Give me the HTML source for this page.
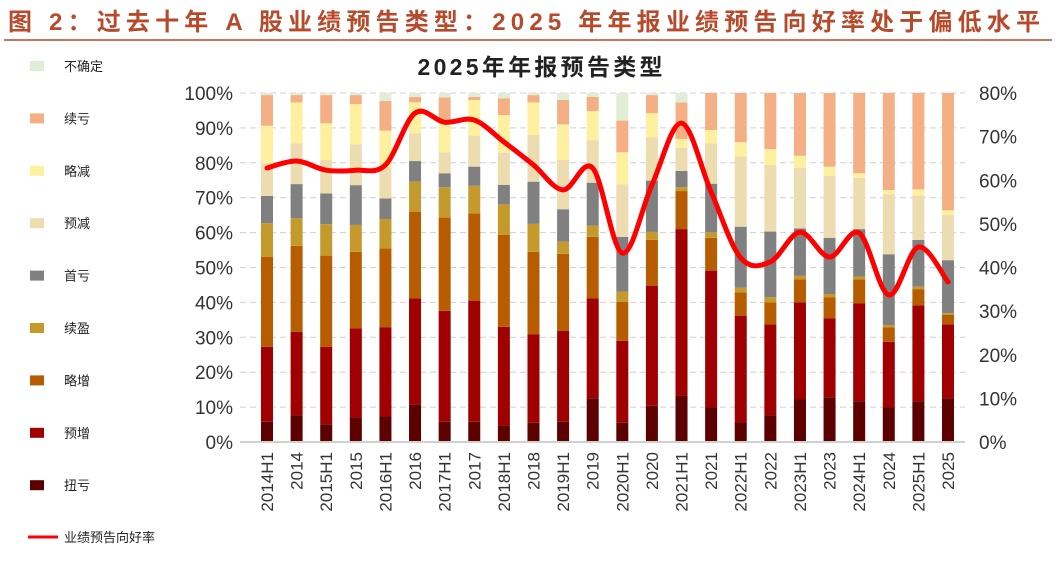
<!DOCTYPE html>
<html><head><meta charset="utf-8">
<style>
body{margin:0;background:#fff;}
svg{display:block;font-family:"Liberation Sans","Noto Sans CJK SC",sans-serif;}
</style></head>
<body>
<svg id="chart" width="1056" height="562" viewBox="0 0 1056 562">
<text x="8" y="30" font-size="24" font-weight="bold" fill="#b84a2c" textLength="1032" lengthAdjust="spacing">图 2：过去十年 A 股业绩预告类型：2025 年年报业绩预告向好率处于偏低水平</text>
<line x1="4" y1="40" x2="1052" y2="40" stroke="#b84a2c" stroke-width="1.5"/>
<text x="540" y="75" font-size="23" font-weight="bold" fill="#222" text-anchor="middle" textLength="245" lengthAdjust="spacing">2025年年报预告类型</text>
<g id="grid"></g><g id="bars"></g><g id="axes"></g><g id="line"></g><g id="legend"></g>
</svg>
<script>
const categories=["2014H1","2014","2015H1","2015","2016H1","2016","2017H1","2017","2018H1","2018","2019H1","2019","2020H1","2020","2021H1","2021","2022H1","2022","2023H1","2023","2024H1","2024","2025H1","2025"];
const seriesNames=["扭亏","预增","略增","续盈","首亏","预减","略减","续亏","不确定"];
const s_niukui=[5.8,7.7,5.1,7.0,7.3,10.8,5.8,5.8,4.7,5.5,5.8,12.5,5.5,10.4,13.3,9.9,5.6,7.7,12.3,12.8,11.7,9.9,11.7,12.5];
const s_yuzeng=[21.5,23.9,22.2,25.6,25.6,30.4,31.8,34.7,28.3,25.3,26.1,28.7,23.5,34.4,47.7,39.2,30.6,26.0,27.7,22.6,28.0,18.8,27.4,21.2];
const s_luezeng=[25.8,24.6,26.1,21.9,22.6,24.8,26.7,25.0,26.4,23.7,22.0,17.6,11.2,13.1,10.9,9.4,6.7,6.3,6.6,6.1,6.9,4.2,4.7,2.7];
const s_xuying=[9.6,7.9,9.0,7.7,8.4,8.6,8.7,7.9,8.7,8.0,3.5,3.2,2.9,2.3,1.1,1.6,1.3,1.5,1.0,0.9,0.8,0.6,0.7,0.5];
const s_shoukui=[7.8,9.8,8.8,11.4,5.9,5.9,4.0,5.5,5.6,12.1,9.3,12.3,15.7,14.7,4.7,13.9,17.5,18.8,13.6,16.1,13.6,20.3,13.4,15.2];
const s_yujian=[9.4,11.7,9.6,11.7,9.1,7.9,6.0,8.9,9.2,13.4,14.1,12.2,15.0,12.4,6.6,11.6,20.1,19.1,17.4,17.8,14.7,17.2,12.7,12.9];
const s_luejian=[10.7,11.7,10.5,11.5,10.3,8.9,9.3,10.2,10.8,9.3,10.2,8.3,9.2,6.9,2.5,3.8,4.1,4.5,3.4,2.6,1.3,1.2,1.8,1.4];
const s_xukui=[8.8,2.1,8.1,2.6,8.5,1.6,6.4,0.9,4.8,2.1,7.0,4.1,9.1,5.2,10.5,10.6,14.1,16.1,18.0,21.1,23.0,27.8,27.6,33.6];
const s_buqueding=[0.6,0.6,0.6,0.6,2.3,1.1,1.3,1.1,1.5,0.6,2.0,1.1,7.9,0.6,2.7,0,0,0,0,0,0,0,0,0];
const rate=[62.8,64.4,62.3,62.3,63.5,75.4,73.3,73.8,68.8,63.5,57.8,62.8,43.3,58.9,73.1,57.3,42.2,41.3,48.1,42.4,47.9,33.7,44.7,36.7];
const leftTicks=["0%","10%","20%","30%","40%","50%","60%","70%","80%","90%","100%"];
const rightTicks=["0%","10%","20%","30%","40%","50%","60%","70%","80%"];
const allSeries=[s_niukui,s_yuzeng,s_luezeng,s_xuying,s_shoukui,s_yujian,s_luejian,s_xukui,s_buqueding];
const colors=["#5c0000","#a00000","#b85c00","#c49a2c","#808080","#ecdcb0","#fff0a0","#f4b084","#e0eed8"];
const NS="http://www.w3.org/2000/svg";
const X0=240,X1=965,Y0=442,Y1=93;
const step=(948-267)/23;
function xS(i){return 267+i*step;}
function yL(v){return Y0-(v/100)*(Y0-Y1);}
function yR(v){return Y0-(v/80)*(Y0-Y1);}
function mk(tag,attrs,parent){const e=document.createElementNS(NS,tag);for(const k in attrs)e.setAttribute(k,attrs[k]);parent.appendChild(e);return e;}
const grid=document.getElementById('grid'),bars=document.getElementById('bars'),axes=document.getElementById('axes'),lineG=document.getElementById('line'),leg=document.getElementById('legend');
leftTicks.forEach((t,i)=>{const v=i*10;
 if(i>0){const g=mk('line',{x1:X0,x2:X1,y1:yL(v),y2:yL(v),stroke:'#d0d0d0','stroke-dasharray':'6,4'},grid);
 
 }
 const tx=mk('text',{x:233,y:yL(v)+7,'font-size':19,fill:'#333','text-anchor':'end'},axes);tx.textContent=t;
 
 
});
rightTicks.forEach((t,i)=>{const v=i*10;
 const tx=mk('text',{x:979,y:yR(v)+7,'font-size':19,fill:'#333'},axes);tx.textContent=t;
 
 
});
const base=mk('line',{x1:X0,x2:X1,y1:Y0,y2:Y0,stroke:'#d0d0d0','stroke-width':2},axes);


categories.forEach((c,i)=>{
 let cum=0;
 allSeries.forEach((s,k)=>{const v=s[i];if(v<=0)return;
  const r=mk('rect',{x:xS(i)-6,width:12,y:yL(cum+v),height:yL(cum)-yL(cum+v),fill:colors[k]},bars);
  
  
  cum+=v;});
 const tx=mk('text',{transform:`translate(${xS(i)+6},452) rotate(-90)`,'font-size':17,fill:'#333','text-anchor':'end'},axes);
 tx.textContent=c;
 
 
});
const pts=rate.map((v,i)=>[xS(i),yR(v)]);
let d=`M${pts[0][0]},${pts[0][1]}`;
for(let i=0;i<pts.length-1;i++){const p0=pts[Math.max(0,i-1)],p1=pts[i],p2=pts[i+1],p3=pts[Math.min(pts.length-1,i+2)];
 const c1=[p1[0]+(p2[0]-p0[0])/6,p1[1]+(p2[1]-p0[1])/6],c2=[p2[0]-(p3[0]-p1[0])/6,p2[1]-(p3[1]-p1[1])/6];
 d+=` C${c1[0]},${c1[1]} ${c2[0]},${c2[1]} ${p2[0]},${p2[1]}`;}
const ln=mk('path',{d:d,fill:'none',stroke:'#ff0000','stroke-width':5,'stroke-linecap':'round'},lineG);


const legOrder=[8,7,6,5,4,3,2,1,0];
legOrder.forEach((k,j)=>{const y=66+j*52.4;
 const r=mk('rect',{x:30,y:y-5,width:14,height:10,fill:colors[k]},leg);
 
 
 const t=mk('text',{x:64,y:y+5,'font-size':13,fill:'#222'},leg);t.textContent=seriesNames[k];
 
 
});
const ll=mk('line',{x1:28,x2:58,y1:537,y2:537,stroke:'#ff0000','stroke-width':3},leg);


const lt=mk('text',{x:64,y:542,'font-size':13,fill:'#222'},leg);lt.textContent='业绩预告向好率';


</script>
</body></html>
